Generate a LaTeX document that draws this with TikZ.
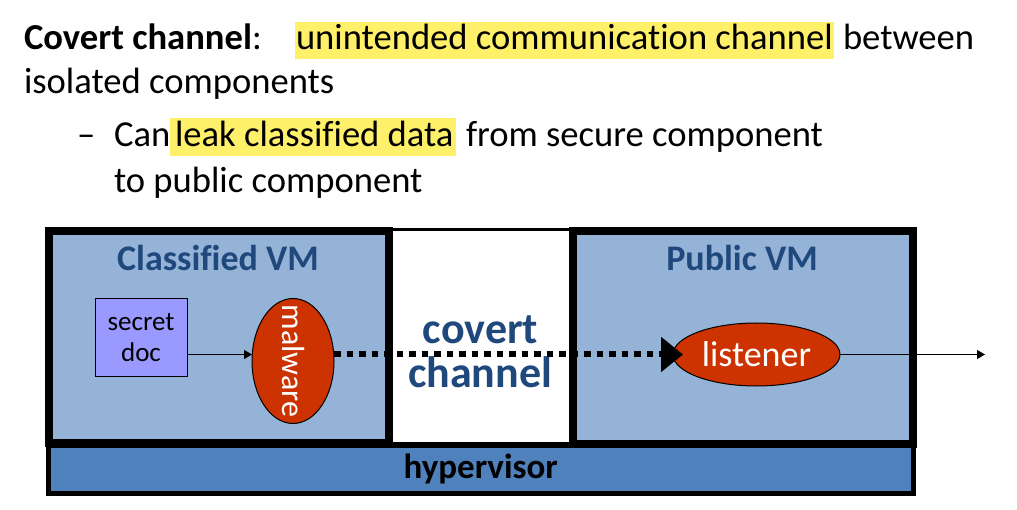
\documentclass[tikz,border=0pt]{standalone}
\usepackage{fontspec}
\setmainfont{Carlito}[Ligatures=NoCommon]
\usetikzlibrary{arrows.meta,shapes.geometric}
\definecolor{vmfill}{HTML}{95B3D7}
\definecolor{hvfill}{HTML}{4F81BD}
\definecolor{lblue}{HTML}{1F497D}
\definecolor{docfill}{HTML}{9999FF}
\definecolor{malred}{HTML}{CC3300}
\definecolor{hlyel}{HTML}{FFF06A}
\begin{document}
\begin{tikzpicture}[x=1pt,y=-1pt,
  every node/.style={inner sep=0pt,outer sep=0pt},
  txt/.style={anchor=base west,font=\fontsize{36.6}{44}\selectfont},
  hl/.style={txt,fill=hlyel,inner xsep=1pt,text height=28pt,text depth=9pt},
  vmbox/.style={draw=black,line width=8pt,fill=vmfill,minimum width=340pt,minimum height=212pt},
  vmlabel/.style={anchor=base,text=lblue,font=\fontsize{36}{42}\selectfont\bfseries},
  chlabel/.style={anchor=base,text=lblue,font=\fontsize{44}{50}\selectfont\bfseries},
  docbox/.style={draw=black,line width=1pt,fill=docfill,minimum width=92pt,minimum height=77pt,align=center,font=\fontsize{27}{31}\selectfont},
  proc/.style={ellipse,draw=black,line width=1pt,fill=malred,text=white},
  thinarrow/.style={line width=1.2pt,-{Triangle[length=8pt,width=9pt]}},
  covert/.style={line width=6pt,dash pattern=on 6.5pt off 6pt,-{Triangle[length=22pt,width=34pt]}}
]
\useasboundingbox (0,0) rectangle (1017,510);

% top text
\node[txt] (t1) at (24,50) {{\bfseries Covert channel}:};
\node[hl] (h1) at (295,50) {unintended communication channel};
\node[txt] (t1b) at (843,50) {between};
\node[txt] (t2) at (24,94) {isolated components};
\node[txt] (dash) at (77,147) {–};
\node[txt] (t3) at (114,147) {Can};
\node[hl,inner xsep=0pt,text height=29pt] (h2) at (170,147) {\hspace*{5pt}leak classified data\hspace*{2pt}};
\node[txt] (t3b) at (466,147) {from secure component};
\node[txt] (t4) at (114,193) {to public component};

% diagram frames
\node[draw=black,line width=3pt,fill=white,minimum width=183pt,minimum height=213pt] (mid) at (480.5,336.5) {};
\node[draw=black,line width=5pt,fill=hvfill,minimum width=864.5pt,minimum height=48.5pt,
      font=\fontsize{35}{40}\selectfont\bfseries] (hyp) at (480.75,469.25) {hypervisor};
\node[vmbox] (cvm) at (219,337) {};
\node[vmbox] (pvm) at (742.5,337.5) {};

\node[vmlabel] (cvml) at (218,271) {Classified VM};
\node[vmlabel] (pvml) at (742,271) {Public VM};
\node[chlabel] (cov) at (480.5,344) {covert};
\node[chlabel] (chan) at (480,387) {channel};

% components
\node[docbox] (doc) at (141,337.5) {secret\\doc};
\node[proc,minimum width=82pt,minimum height=125pt] (malware) at (293,361) {};
\node[rotate=-90,text=white,font=\fontsize{32}{38}\selectfont] (malwarelbl) at (malware.center) {malware};
\node[proc,minimum width=167pt,minimum height=63pt,font=\fontsize{36}{40}\selectfont] (listener) at (756.5,354.5) {listener};
\coordinate (out) at (985,354.5);

% connectors
\draw[thinarrow] (doc.east |- listener.west) -- (malware.west |- listener.west);
\draw[covert,shorten >=-10pt] (malware.east |- listener.west) -- (listener.west);
\draw[thinarrow] (listener.east) -- (out);
\end{tikzpicture}
\end{document}
